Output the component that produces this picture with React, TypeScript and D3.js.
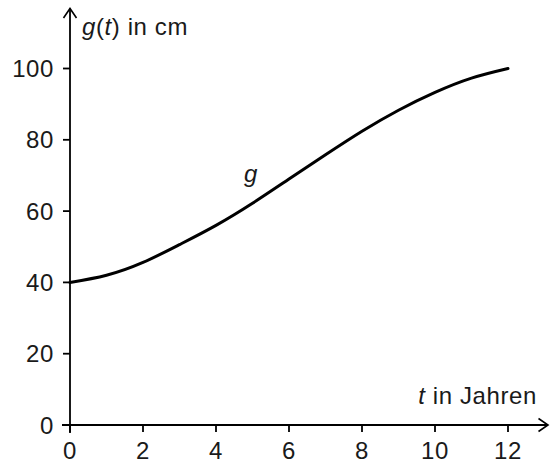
import React from "react";
import * as d3 from "d3";

const tValues = [0, 1, 2, 3, 4, 5, 6, 7, 8, 9, 10, 11, 12];
const gValues = [40, 42.0, 45.6, 50.6, 56.0, 62.2, 69.0, 75.8, 82.4, 88.3, 93.3, 97.3, 100];
const xTicks = [0, 2, 4, 6, 8, 10, 12];
const yTicks = [0, 20, 40, 60, 80, 100];

const W = 550;
const H = 464;
const FONT = "'Liberation Sans', Arial, Helvetica, sans-serif";
const FS = 24;
const LS = 0.6;

export default function App() {
  const x = d3.scaleLinear().domain([0, 12]).range([70, 508]);
  const y = d3.scaleLinear().domain([0, 100]).range([425, 68.5]);
  const pts = tValues.map((t, i) => [t, gValues[i]] as [number, number]);
  const line = d3
    .line<[number, number]>()
    .x((d) => x(d[0]))
    .y((d) => y(d[1]))
    .curve(d3.curveNatural);

  const x0 = x(0);
  const y0 = y(0);
  const axisEndX = 548;
  const axisTopY = 8.5;

  return (
    <svg
      width={W}
      height={H}
      style={{ position: "absolute", left: 0, top: 0, background: "#fff" }}
      fontFamily={FONT}
    >
      {/* axes */}
      <line x1={x0} y1={y0 + 8} x2={x0} y2={axisTopY} stroke="#000" strokeWidth={1.8} />
      <line x1={x0 - 8} y1={y0} x2={axisEndX} y2={y0} stroke="#000" strokeWidth={1.8} />
      <polyline
        points={`${x0 - 6.5},${axisTopY + 9.5} ${x0},${axisTopY} ${x0 + 6.5},${axisTopY + 9.5}`}
        fill="none"
        stroke="#000"
        strokeWidth={1.6}
      />
      <polyline
        points={`${axisEndX - 9.5},${y0 - 6.5} ${axisEndX},${y0} ${axisEndX - 9.5},${y0 + 6.5}`}
        fill="none"
        stroke="#000"
        strokeWidth={1.6}
      />
      {/* y ticks */}
      {yTicks.map((v) => (
        <g key={"y" + v}>
          <line x1={x0 - 7} x2={x0} y1={y(v)} y2={y(v)} stroke="#000" strokeWidth={1.8} />
          <text
            x={54}
            y={y(v) + 8.5}
            textAnchor="end"
            fontSize={FS}
            letterSpacing={LS}
            fill="#1a1a1a"
          >
            {v}
          </text>
        </g>
      ))}
      {/* x ticks */}
      {xTicks.map((v) => (
        <g key={"x" + v}>
          <line x1={x(v)} x2={x(v)} y1={y0} y2={y0 + 7} stroke="#000" strokeWidth={1.8} />
          <text
            x={x(v)}
            y={459}
            textAnchor="middle"
            fontSize={FS}
            letterSpacing={LS}
            fill="#1a1a1a"
          >
            {v}
          </text>
        </g>
      ))}
      {/* axis labels */}
      <text x={82} y={35} fontSize={FS} letterSpacing={LS} fill="#1a1a1a">
        <tspan fontStyle="italic">g</tspan>(<tspan fontStyle="italic">t</tspan>) in cm
      </text>
      <text x={537} y={404} textAnchor="end" fontSize={FS} letterSpacing={LS} fill="#1a1a1a">
        <tspan fontStyle="italic">t</tspan> in Jahren
      </text>
      {/* curve */}
      <path d={line(pts) || ""} fill="none" stroke="#000" strokeWidth={3} strokeLinecap="round" />
      <text x={244} y={182} fontSize={FS} fontStyle="italic" fill="#1a1a1a">
        g
      </text>
    </svg>
  );
}
